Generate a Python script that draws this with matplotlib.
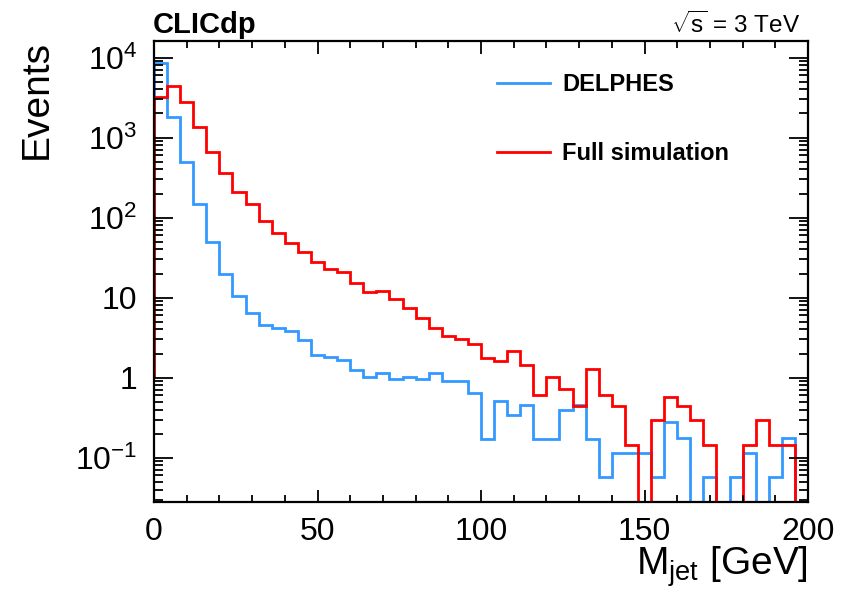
import numpy as np
import matplotlib
matplotlib.use('Agg')
import matplotlib.pyplot as plt
from matplotlib.ticker import FixedLocator, FuncFormatter, MultipleLocator

plt.rcParams['font.family'] = ['Liberation Sans', 'DejaVu Sans']
plt.rcParams['mathtext.fontset'] = 'custom'
plt.rcParams['mathtext.rm'] = 'Liberation Sans'
plt.rcParams['mathtext.it'] = 'Liberation Sans:italic'
plt.rcParams['mathtext.bf'] = 'Liberation Sans:bold'

# binning: 50 bins of 4 GeV
bin_edges = list(range(0, 204, 4))

delphes = [8500, 1830, 500, 147, 50, 19.8, 10.6, 6.5, 4.55, 4.14,
           3.84, 2.96, 1.92, 1.8, 1.66, 1.25, 1.03, 1.13, 0.96, 1.03,
           0.96, 1.13, 0.92, 0.92, 0.64, 0.17, 0.51, 0.34, 0.46, 0.17,
           0.17, 0.40, 0.46, 0.17, 0.058, 0.113, 0.113, 0.113, 0.058, 0.28,
           0.175, 0, 0.058, 0, 0.058, 0.113, 0, 0.058, 0.175, 0]

full_sim = [3240, 4360, 2770, 1350, 668, 365, 208, 147, 90, 65,
            48, 37.5, 28.2, 23, 21, 15.4, 11.7, 12.1, 9.6, 7.4,
            5.5, 4.2, 3.35, 3.05, 2.62, 1.76, 1.62, 2.18, 1.45, 0.6,
            1.02, 0.72, 0.44, 1.27, 0.6, 0.44, 0.144, 0, 0.296, 0.57,
            0.44, 0.296, 0.144, 0, 0, 0.144, 0.296, 0.144, 0.144, 0]

labels = ['DELPHES', 'Full simulation']
colors = ['#3399ff', '#ff0000']

y_ticks = [0.1, 1, 10, 100, 1000, 10000]
y_tick_labels = ['$10^{-1}$', '1', '10', '$10^{2}$', '$10^{3}$', '$10^{4}$']

W, H = 846, 593
fig = plt.figure(figsize=(W / 100, H / 100), dpi=100)
ax = fig.add_axes([154 / W, 1 - 501.7 / H, (808 - 154) / W, (501.7 - 41) / H])

# empty bins go below the frame (log scale)
for vals, lab, col in zip([delphes, full_sim], labels, colors):
    v = np.array(vals, dtype=float)
    v = np.where(v > 0, v, 1e-5)
    ax.stairs(v, bin_edges, baseline=1, color=col, lw=2.0, label=lab)

ax.set_yscale('log')
ax.set_xlim(0, 200)
ax.set_ylim(0.0282, 1.61e4)

ax.xaxis.set_major_locator(MultipleLocator(50))
ax.xaxis.set_minor_locator(MultipleLocator(10))
ax.yaxis.set_major_locator(FixedLocator(y_ticks))
minor = [m * 10.0 ** e for e in range(-2, 5) for m in range(2, 10)]
ax.yaxis.set_minor_locator(FixedLocator(minor))
ax.yaxis.set_major_formatter(FuncFormatter(lambda v, p: y_tick_labels[y_ticks.index(v)] if v in y_ticks else ''))

ax.tick_params(which='both', direction='in', top=True, right=True, width=1.3, colors='black')
ax.tick_params(axis='x', which='major', length=9, labelsize=23, pad=11)
ax.tick_params(axis='x', which='minor', length=5)
ax.tick_params(axis='y', which='major', length=13.5, labelsize=23, pad=12)
ax.tick_params(axis='y', which='minor', length=6.5)
for s in ax.spines.values():
    s.set_linewidth(1.6)

fig.text(37 / W, 1 - 40 / H, 'Events', rotation=90, ha='center', va='top', fontsize=28)
fig.text(808 / W, 1 - 575 / H, r'M$_{\mathrm{jet}}$ [GeV]', ha='right', va='baseline', fontsize=28)
fig.text(153 / W, 1 - 33 / H, 'CLICdp', ha='left', va='baseline', fontsize=21, fontweight='bold')
fig.text(800 / W, 1 - 33 / H, r'$\sqrt{\mathrm{s}}$ = 3 TeV', ha='right', va='baseline', fontsize=17.5)

ax.legend(loc='upper left', bbox_to_anchor=(497 / W, 1 - 73 / H), bbox_transform=fig.transFigure,
          frameon=False, prop={'weight': 'bold', 'size': 17}, handlelength=2.25,
          handletextpad=0.5, labelspacing=1.95, borderpad=0, borderaxespad=0)

plt.savefig('out.png', dpi=100)
